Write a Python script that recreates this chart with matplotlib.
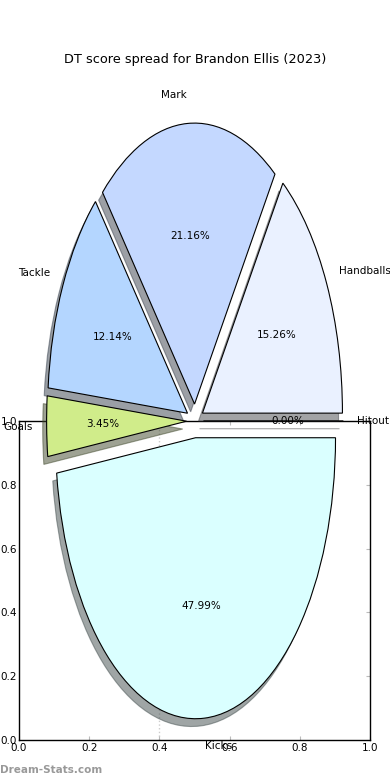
import matplotlib
matplotlib.use("Agg")
import matplotlib.pyplot as plt

labels = ["Hitout", "Handballs", "Mark", "Tackle", "Goals", "Kicks"]
values = [0.00, 15.26, 21.16, 12.14, 3.45, 47.99]
colors = ["#FFFFFF", "#EAF1FF", "#C4D8FF", "#B4D6FF", "#D0EC8A", "#DAFFFF"]
explode = [0.06] * len(values)
ticks = [0.0, 0.2, 0.4, 0.6, 0.8, 1.0]
tick_labels = ["0.0", "0.2", "0.4", "0.6", "0.8", "1.0"]
title = "DT score spread for Brandon Ellis (2023)"

fig = plt.figure(figsize=(3.9, 7.8), dpi=100)

# background axes (drawn below the pie)
ax2 = fig.add_axes([19/390, 40/780, 351/390, 319/780])
ax2.set_xlim(0, 1)
ax2.set_ylim(0, 1)
ax2.set_xticks(ticks)
ax2.set_xticklabels(tick_labels)
ax2.set_yticks(ticks)
ax2.set_yticklabels(tick_labels)
ax2.tick_params(axis="both", direction="in", length=3, color="#bbbbbb",
                labelsize=7.5, pad=2, top=True, right=True)
ax2.tick_params(axis="y", left=False, pad=1.5)
ax2.axvline(0.4, color="#cccccc", linestyle=":", linewidth=1, zorder=0)
for s in ax2.spines.values():
    s.set_linewidth(1)
ax2.set_zorder(0)

# pie axes on top, transparent
ax = fig.add_axes([0, 0, 1, 1])
ax.set_zorder(1)
ax.patch.set_alpha(0)
wedges, texts, autotexts = ax.pie(
    values, labels=labels, colors=colors, explode=explode,
    autopct="%1.2f%%", startangle=0, shadow=True,
    wedgeprops=dict(edgecolor="black", linewidth=0.8),
    textprops=dict(fontsize=7.5),
)
ax.set_aspect("auto")
ax.set_xlim(-1.393, 1.393)
ax.set_ylim(-1.278, 1.498)
ax.axis("off")

fig.text(0.5, 1 - 60/780, title, ha="center", va="center", fontsize=9.3)
fig.text(0.0, 1 - 770/780, "Dream-Stats.com", ha="left", va="center",
         fontsize=7.5, fontweight="bold", color="#999999")

fig.savefig("out.png", dpi=100)
